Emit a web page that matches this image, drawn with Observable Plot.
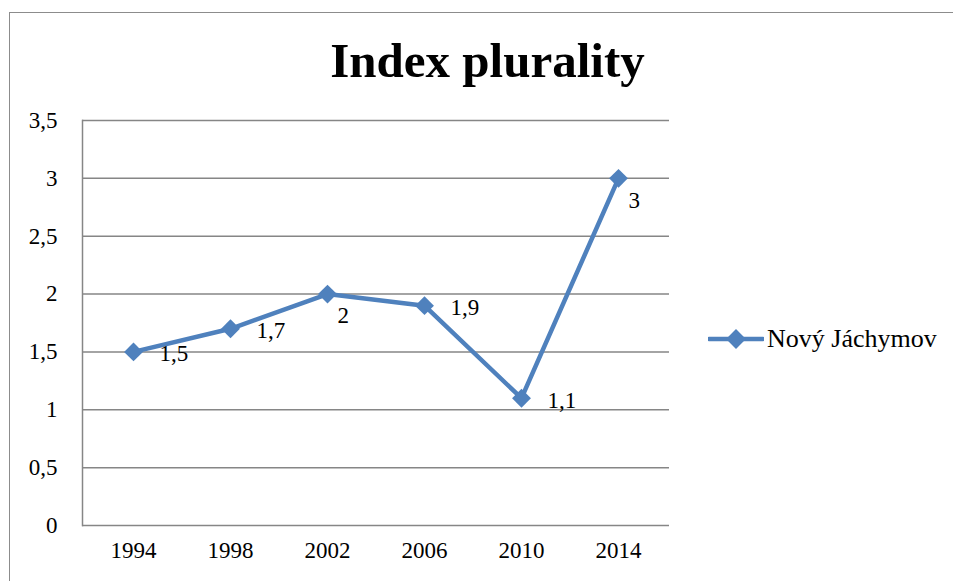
<!DOCTYPE html>
<html>
<head>
<meta charset="utf-8">
<script src="https://cdn.jsdelivr.net/npm/d3@7"></script>
<script src="https://cdn.jsdelivr.net/npm/@observablehq/plot@0.6"></script>
<style>
  html, body { margin: 0; padding: 0; background: #fff; width: 953px; height: 581px; overflow: hidden; }
  body { position: relative; font-family: "Liberation Serif", "Times New Roman", serif; }
  #frame { position: absolute; left: 9px; top: 12px; width: 2000px; height: 2000px; border: 1.5px solid #8c8c8c; box-sizing: border-box; }
  #title { position: absolute; left: 0; width: 975px; top: 33px; text-align: center; font-weight: bold; font-size: 49px; line-height: 56px; color: #000; }
  #chart { position: absolute; left: 0; top: 100px; }
  #legend { position: absolute; left: 708px; top: 324px; height: 30px; display: flex; align-items: center; font-size: 26px; line-height: 30px; color: #000; white-space: nowrap; }
  #legend svg { margin-right: 3px; }
</style>
</head>
<body>
<div id="frame"></div>
<div id="title">Index plurality</div>
<div id="chart"></div>
<div id="legend"></div>
<script>
const seriesName = "Nový Jáchymov";
const years = ["1994", "1998", "2002", "2006", "2010", "2014"];
const values = [1.5, 1.7, 2, 1.9, 1.1, 3];
const yTicks = [0, 0.5, 1, 1.5, 2, 2.5, 3, 3.5];

const color = "#4F81BD";
const grid = "#868686";
const fmt = d => String(d).replace(".", ",");

const data = years.map((year, i) => ({year, value: values[i]}));
const isPeak = (d, i) =>
  (i === 0 || d.value >= values[i - 1]) && (i === values.length - 1 || d.value >= values[i + 1]);
const peaks = data.filter(isPeak);
const others = data.filter((d, i) => !isPeak(d, i));

const chart = Plot.plot({
  width: 690,
  height: 481,
  marginLeft: 82,
  marginRight: 21,
  marginTop: 20,
  marginBottom: 56,
  style: {fontFamily: '"Liberation Serif", "Times New Roman", serif', fontSize: "23px", color: "#000", background: "transparent"},
  x: {type: "point", domain: years, padding: 0.5, label: null},
  y: {domain: [0, 3.5], label: null},
  marks: [
    Plot.gridY(yTicks, {stroke: grid, strokeOpacity: 1, strokeWidth: 1.5}),
    Plot.frame({anchor: "left", stroke: grid, strokeWidth: 1.5}),
    Plot.axisY({ticks: yTicks, tickFormat: fmt, tickSize: 0, tickPadding: 25, label: null}),
    Plot.axisX({tickSize: 0, tickPadding: 16, label: null}),
    Plot.line(data, {x: "year", y: "value", stroke: color, strokeWidth: 4.5}),
    Plot.dot(data, {x: "year", y: "value", symbol: "diamond2", r: 8.5, fill: color, stroke: null}),
    Plot.text(others, {x: "year", y: "value", text: d => fmt(d.value), textAnchor: "start", dx: 26, dy: 2, fill: "#000"}),
    Plot.text(peaks, {x: "year", y: "value", text: d => fmt(d.value), textAnchor: "start", dx: 10, dy: 22, fill: "#000"})
  ]
});
document.getElementById("chart").append(chart);

const legend = document.getElementById("legend");
legend.innerHTML = `<svg width="56" height="24" viewBox="0 0 56 24">
  <line x1="1" y1="12" x2="55" y2="12" stroke="${color}" stroke-width="4.5" stroke-linecap="round"/>
  <rect x="21" y="5" width="14" height="14" fill="${color}" transform="rotate(45 28 12)"/>
</svg><span>${seriesName}</span>`;
</script>
</body>
</html>
